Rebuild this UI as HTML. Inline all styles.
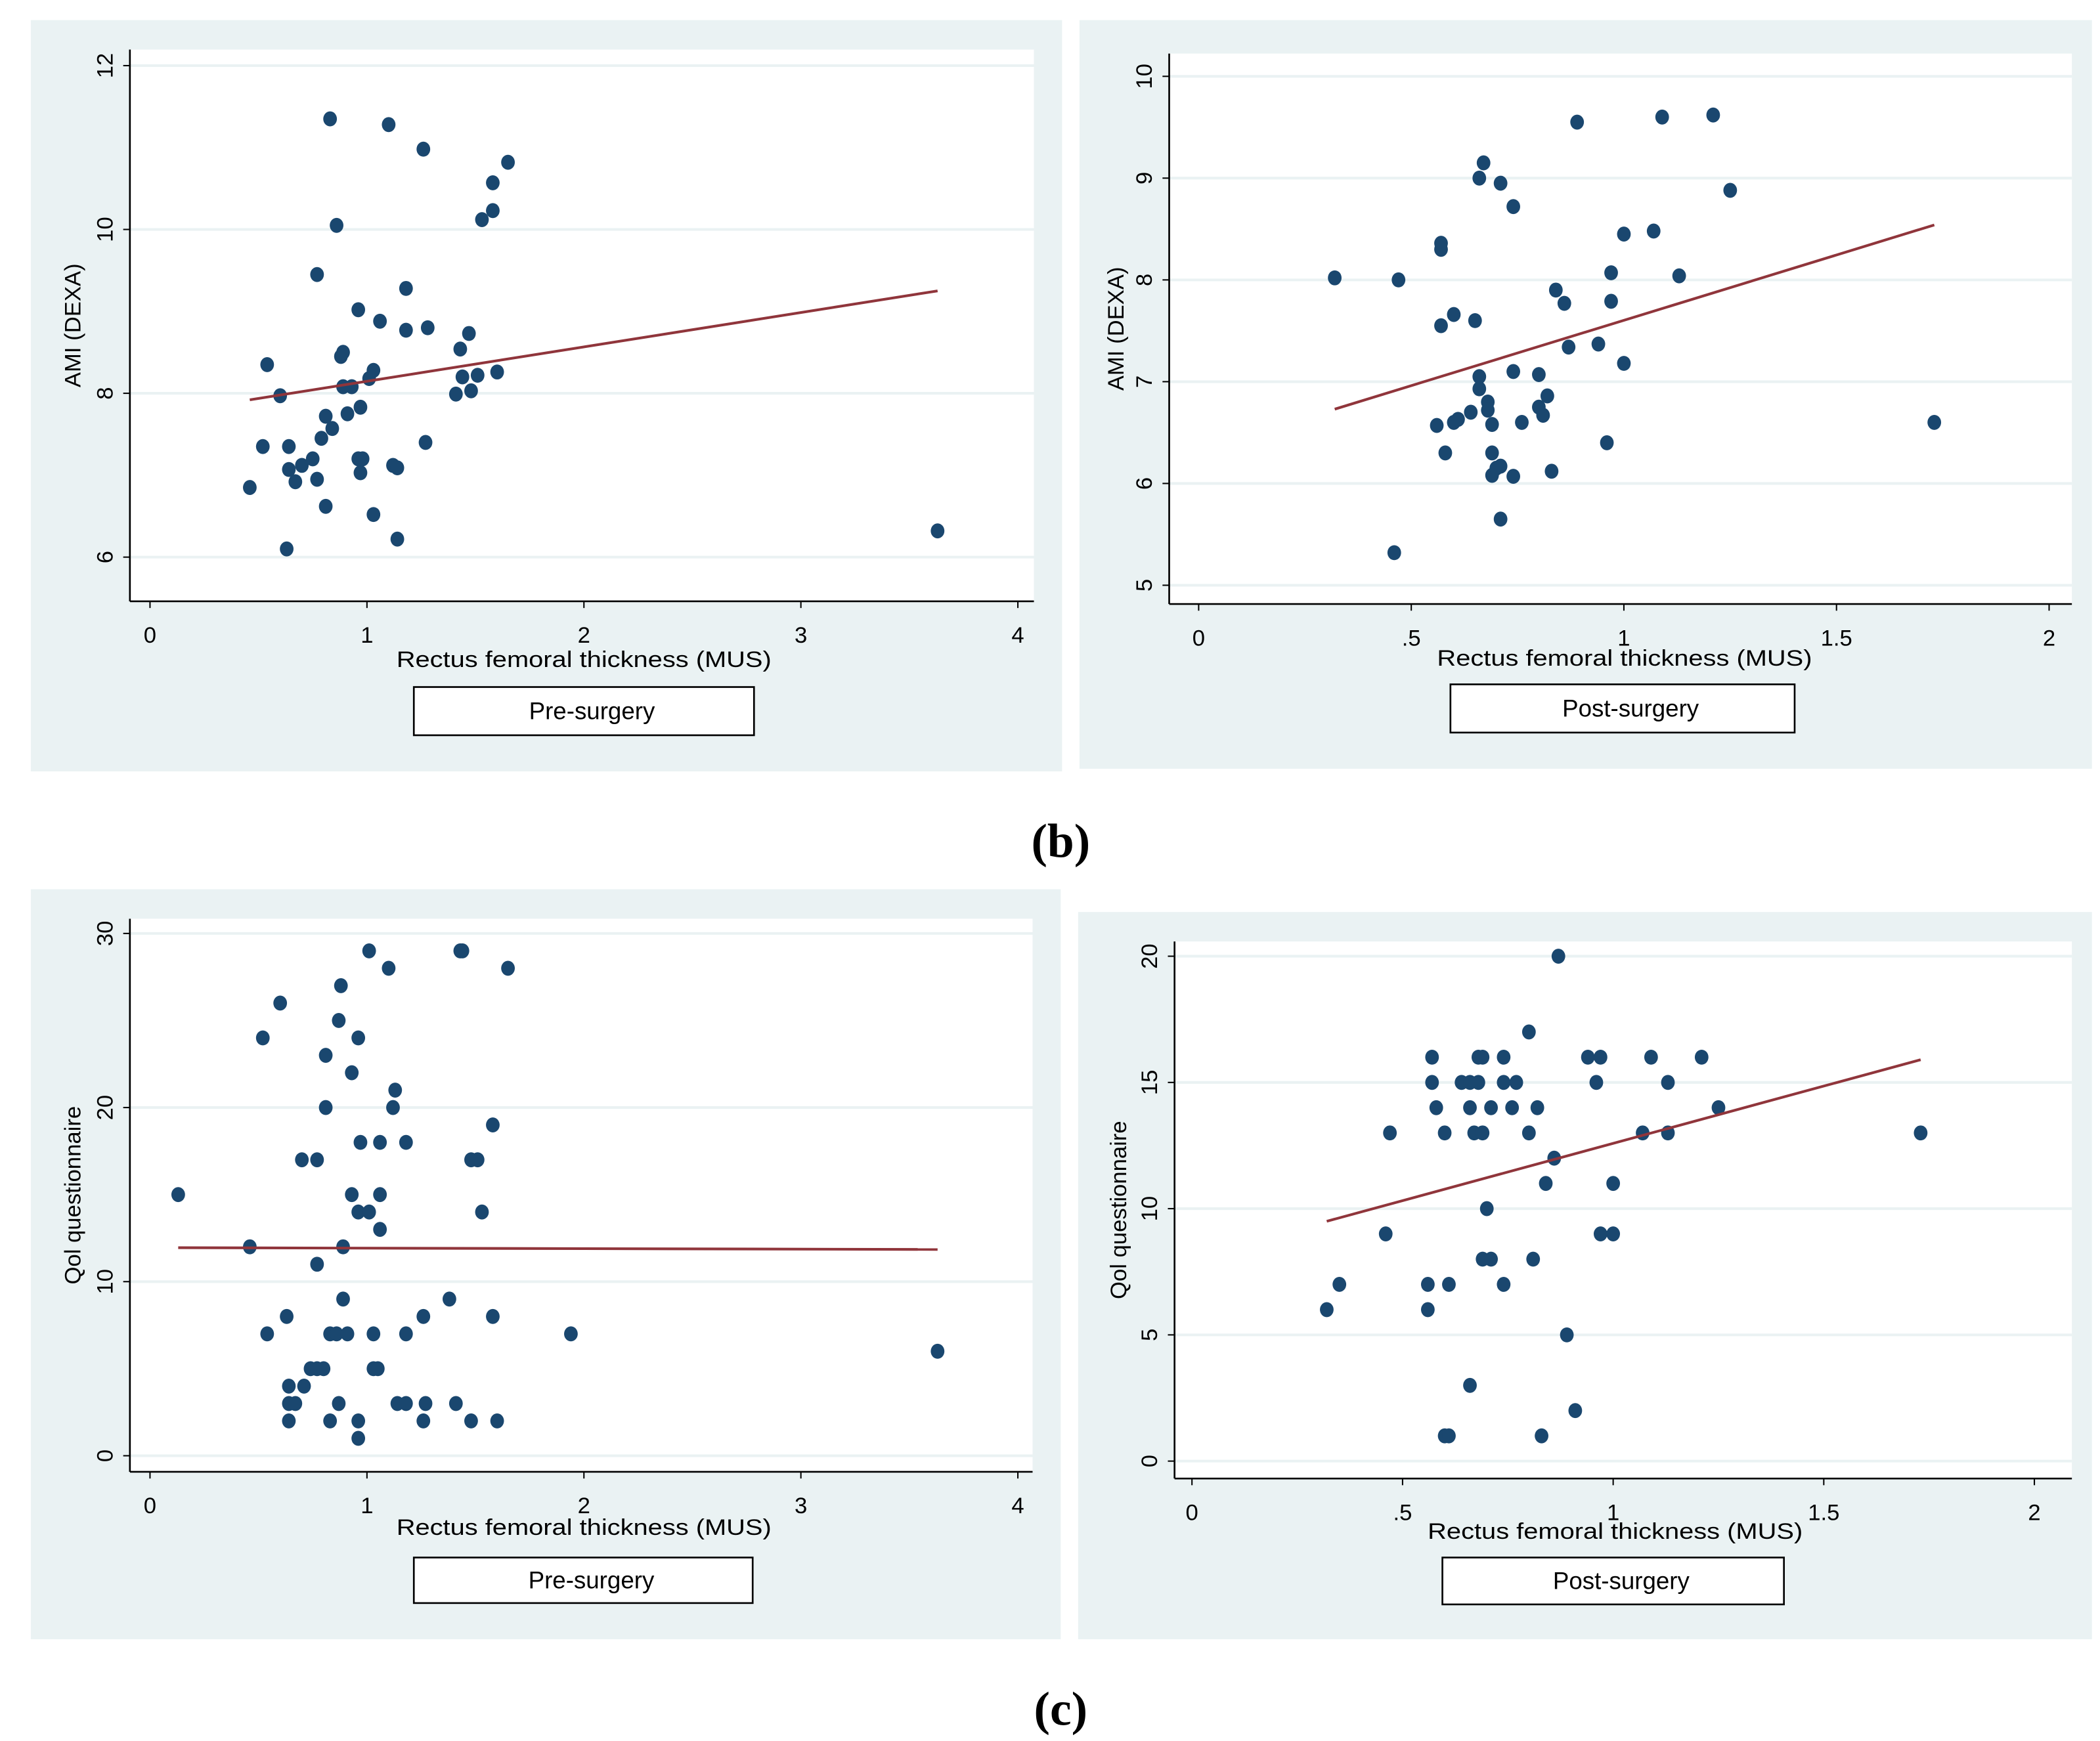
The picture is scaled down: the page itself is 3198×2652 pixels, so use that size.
<!DOCTYPE html>
<html><head><meta charset="utf-8"><style>
html,body{margin:0;padding:0;background:#fff}
svg{display:block}
text{font-family:"Liberation Sans",sans-serif;fill:#000}
</style></head><body>
<svg id="chart" width="3198" height="2652" viewBox="0 0 1568 1300" preserveAspectRatio="none" xmlns="http://www.w3.org/2000/svg">
<text x="792" y="640" text-anchor="middle" style="font-family:'Liberation Serif',serif;font-weight:bold;font-size:36px">(b)</text>
<text x="792" y="1288" text-anchor="middle" style="font-family:'Liberation Serif',serif;font-weight:bold;font-size:36px">(c)</text>
</svg>
<script>
const NS="http://www.w3.org/2000/svg";
const svg=document.getElementById('chart');
// Panel 1: pre-surgery AMI
const p1X=[0.46,0.52,0.54,0.60,0.63,0.64,0.64,0.67,0.70,0.75,0.77,0.77,0.79,0.81,0.81,0.83,0.84,0.86,0.88,0.89,0.89,0.91,0.93,0.96,0.96,0.97,0.97,0.98,1.01,1.03,1.03,1.06,1.10,1.12,1.14,1.14,1.18,1.18,1.26,1.27,1.28,1.41,1.43,1.44,1.47,1.48,1.51,1.53,1.58,1.58,1.60,1.65,3.63];
const p1Y=[6.85,7.35,8.35,7.97,6.1,7.07,7.35,6.92,7.12,7.2,6.95,9.45,7.45,7.72,6.62,11.35,7.57,10.05,8.45,8.5,8.08,7.75,8.08,9.02,7.2,7.83,7.03,7.2,8.18,8.28,6.52,8.88,11.28,7.12,7.09,6.22,9.28,8.77,10.98,7.4,8.8,7.99,8.54,8.2,8.73,8.03,8.22,10.12,10.23,10.57,8.26,10.82,6.32];
const p1Fit=[[0.46,7.92],[3.63,9.25]];
const p1XTicks=[0,1,2,3,4];const p1XLabels=["0","1","2","3","4"];
const p1YTicks=[6,8,10,12];const p1YLabels=["6","8","10","12"];
// Panel 2: post-surgery AMI
const p2X=[0.32,0.46,0.47,0.57,0.57,0.57,0.56,0.58,0.60,0.60,0.61,0.64,0.65,0.66,0.66,0.66,0.67,0.68,0.68,0.69,0.69,0.69,0.70,0.71,0.71,0.71,0.74,0.74,0.74,0.76,0.80,0.80,0.81,0.82,0.83,0.84,0.86,0.87,0.89,0.94,0.96,0.97,0.97,1.00,1.00,1.07,1.09,1.13,1.21,1.25,1.73];
const p2Y=[8.02,5.32,8.0,7.55,8.3,8.36,6.57,6.3,7.66,6.6,6.63,6.7,7.6,9.0,7.05,6.93,9.15,6.8,6.72,6.58,6.3,6.08,6.15,8.95,6.17,5.65,8.72,7.1,6.07,6.6,7.07,6.75,6.67,6.86,6.12,7.9,7.77,7.34,9.55,7.37,6.4,8.07,7.79,8.45,7.18,8.48,9.6,8.04,9.62,8.88,6.6];
const p2Fit=[[0.32,6.73],[1.73,8.54]];
const p2XTicks=[0,0.5,1,1.5,2];const p2XLabels=["0",".5","1","1.5","2"];
const p2YTicks=[5,6,7,8,9,10];const p2YLabels=["5","6","7","8","9","10"];
// Panel 3: pre-surgery QoL
const p3X=[0.13,0.46,0.52,0.54,0.60,0.63,0.64,0.64,0.64,0.67,0.70,0.71,0.74,0.77,0.77,0.77,0.80,0.81,0.81,0.83,0.83,0.86,0.87,0.87,0.88,0.89,0.89,0.91,0.93,0.93,0.96,0.96,0.96,0.96,0.97,1.01,1.01,1.03,1.03,1.05,1.06,1.06,1.06,1.10,1.12,1.13,1.14,1.18,1.18,1.18,1.26,1.26,1.27,1.38,1.41,1.43,1.44,1.48,1.48,1.51,1.53,1.58,1.58,1.60,1.65,1.94,3.63];
const p3Y=[15,12,24,7,26,8,4,3,2,3,17,4,5,17,11,5,5,23,20,7,2,7,25,3,27,9,12,7,22,15,14,24,2,1,18,29,14,7,5,5,18,15,13,28,20,21,3,18,7,3,8,2,3,9,3,29,29,17,2,17,14,19,8,2,28,7,6];
const p3Fit=[[0.13,11.95],[3.63,11.85]];
const p3XTicks=[0,1,2,3,4];const p3XLabels=["0","1","2","3","4"];
const p3YTicks=[0,10,20,30];const p3YLabels=["0","10","20","30"];
// Panel 4: post-surgery QoL
const p4X=[0.32,0.35,0.46,0.47,0.56,0.56,0.57,0.57,0.58,0.60,0.61,0.60,0.61,0.64,0.66,0.66,0.66,0.67,0.68,0.68,0.69,0.69,0.69,0.70,0.71,0.71,0.74,0.74,0.74,0.76,0.77,0.80,0.80,0.81,0.82,0.83,0.84,0.86,0.87,0.89,0.91,0.94,0.96,0.97,0.97,1.0,1.0,1.07,1.09,1.13,1.13,1.21,1.25,1.73];
const p4Y=[6,7,9,13,7,6,16,15,14,13,7,1,1,15,15,14,3,13,16,15,16,13,8,10,14,8,16,15,7,14,15,17,13,8,14,1,11,12,20,5,2,16,15,16,9,11,9,13,16,15,13,16,14,13];
const p4Fit=[[0.32,9.5],[1.73,15.9]];
const p4XTicks=[0,0.5,1,1.5,2];const p4XLabels=["0",".5","1","1.5","2"];
const p4YTicks=[0,5,10,15,20];const p4YLabels=["0","5","10","15","20"];

function el(tag,attrs,parent){const e=document.createElementNS(NS,tag);for(const k in attrs)e.setAttribute(k,attrs[k]);(parent||svg).appendChild(e);return e;}

function panel(c,xs,ys,fit,xt,xl,yt,yl){
  const g=el('g',{});
  
  
  const bg=el('rect',{x:c.bx0,y:c.by0,width:c.bx1-c.bx0,height:c.by1-c.by0,fill:'#eaf2f3'},g);
  
  
  const pa=el('rect',{x:c.ax,y:c.top,width:c.right-c.ax,height:c.ay-c.top,fill:'#fff'},g);
  
  
  const sx=v=>c.x0p+(v-c.x0)/(c.x1-c.x0)*(c.x1p-c.x0p);
  const sy=v=>c.y0p+(v-c.y0)/(c.y1-c.y0)*(c.y1p-c.y0p);
  yt.forEach((v,i)=>{
    const gl=el('line',{x1:c.ax,x2:c.right,y1:sy(v),y2:sy(v),stroke:'#eaf2f3','stroke-width':2},g);
    
    
    el('line',{x1:c.ax-5,x2:c.ax,y1:sy(v),y2:sy(v),stroke:'#000','stroke-width':1},g);
    const t=el('text',{x:c.ax-13,y:sy(v),'text-anchor':'middle','font-size':17,transform:`rotate(-90 ${c.ax-13} ${sy(v)})`},g);
    t.textContent=yl[i];
    
    
  });
  xt.forEach((v,i)=>{
    el('line',{x1:sx(v),x2:sx(v),y1:c.ay,y2:c.ay+5,stroke:'#000','stroke-width':1},g);
    const t=el('text',{x:sx(v),y:c.ay+31,'text-anchor':'middle','font-size':17},g);
    t.textContent=xl[i];
    
    
  });
  const ya=el('line',{x1:c.ax,x2:c.ax,y1:c.top,y2:c.ay,stroke:'#000','stroke-width':1.3},g);
  
  
  const xa=el('line',{x1:c.ax,x2:c.right,y1:c.ay,y2:c.ay,stroke:'#000','stroke-width':1.3},g);
  
  
  xs.forEach((v,i)=>{
    const d=el('ellipse',{cx:sx(v),cy:sy(ys[i]),rx:5.1,ry:5.6,fill:'#1a476f'},g);
    
    
  });
  const fl=el('line',{x1:sx(fit[0][0]),y1:sy(fit[0][1]),x2:sx(fit[1][0]),y2:sy(fit[1][1]),stroke:'#90353b','stroke-width':2},g);
  
  
  const yti=el('text',{x:c.ytx,y:(c.top+c.ay)/2,'text-anchor':'middle','font-size':17,transform:`rotate(-90 ${c.ytx} ${(c.top+c.ay)/2})`},g);
  yti.textContent=c.ytitle;
  
  
  const xti=el('text',{x:c.xtx,y:c.ay+c.xtoff,'text-anchor':'middle','font-size':17,textLength:280,lengthAdjust:'spacingAndGlyphs'},g);
  xti.textContent='Rectus femoral thickness (MUS)';
  
  
  const lb=el('rect',{x:c.lx0,y:c.ly0,width:c.lx1-c.lx0,height:c.ly1-c.ly0,fill:'#fff',stroke:'#000','stroke-width':1.3},g);
  
  
  const lt=el('text',{x:(c.lx0+c.lx1)/2+6,y:(c.ly0+c.ly1)/2+6,'text-anchor':'middle','font-size':18},g);
  lt.textContent=c.legend;
  
  
}

panel({name:'panel-ami-pre',bx0:23,by0:15,bx1:793,by1:576,ax:97,top:37,right:772,ay:449,x0:0,x1:4,x0p:112,x1p:760,y0:6,y1:12,y0p:416,y1p:49,ytx:60,xtx:436,xtoff:49,ytitle:'AMI (DEXA)',legend:'Pre-surgery',lx0:309,lx1:563,ly0:513,ly1:549},p1X,p1Y,p1Fit,p1XTicks,p1XLabels,p1YTicks,p1YLabels);
panel({name:'panel-ami-post',bx0:806,by0:15,bx1:1562,by1:574,ax:873,top:40,right:1547,ay:451,x0:0,x1:2,x0p:895,x1p:1530,y0:5,y1:10,y0p:437,y1p:57,ytx:839,xtx:1213,xtoff:46,ytitle:'AMI (DEXA)',legend:'Post-surgery',lx0:1083,lx1:1340,ly0:511,ly1:547},p2X,p2Y,p2Fit,p2XTicks,p2XLabels,p2YTicks,p2YLabels);
panel({name:'panel-qol-pre',bx0:23,by0:664,bx1:792,by1:1224,ax:97,top:686,right:771,ay:1099,x0:0,x1:4,x0p:112,x1p:760,y0:0,y1:30,y0p:1087,y1p:697,ytx:60,xtx:436,xtoff:47,ytitle:'Qol questionnaire',legend:'Pre-surgery',lx0:309,lx1:562,ly0:1163,ly1:1197},p3X,p3Y,p3Fit,p3XTicks,p3XLabels,p3YTicks,p3YLabels);
panel({name:'panel-qol-post',bx0:805,by0:681,bx1:1562,by1:1224,ax:877,top:703,right:1547,ay:1104,x0:0,x1:2,x0p:890,x1p:1519,y0:0,y1:20,y0p:1091,y1p:714,ytx:841,xtx:1206,xtoff:45,ytitle:'Qol questionnaire',legend:'Post-surgery',lx0:1077,lx1:1332,ly0:1163,ly1:1198},p4X,p4Y,p4Fit,p4XTicks,p4XLabels,p4YTicks,p4YLabels);
</script>
</body></html>
